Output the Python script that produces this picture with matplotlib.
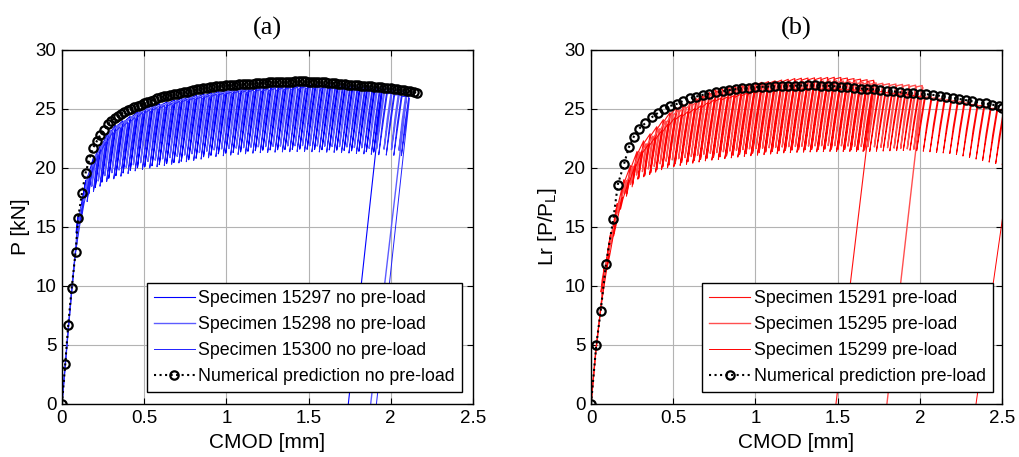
import numpy as np
import matplotlib
matplotlib.use("Agg")
import matplotlib.pyplot as plt
"""Cyclic CMOD tests compared with the numerical prediction, without (a) and with (b) pre-load"""

plt.rcParams['font.family'] = ['Liberation Sans', 'DejaVu Sans']
plt.rcParams['mathtext.default'] = 'regular'

# ---- numerical prediction, panel (a)
num_a_x = [0.0, 0.02, 0.038, 0.059, 0.083, 0.099, 0.122, 0.144, 0.168, 0.189,
           0.213, 0.233, 0.254, 0.28] + list(np.round(np.arange(0.30, 2.161, 0.02), 2))
num_a_y = [0.0, 3.4, 6.7, 9.8, 12.9, 15.8, 17.9, 19.6, 20.8, 21.7, 22.3, 22.8, 23.2, 23.7,
           24.00, 24.20, 24.40, 24.58, 24.75, 24.90, 25.02, 25.14, 25.26, 25.38,
           25.50, 25.60, 25.70, 25.80, 25.90, 26.00, 26.06, 26.12, 26.18, 26.24,
           26.30, 26.36, 26.42, 26.48, 26.54, 26.60, 26.66, 26.72, 26.77, 26.81,
           26.85, 26.89, 26.93, 26.96, 26.98, 27.00, 27.02, 27.04, 27.06, 27.08,
           27.10, 27.12, 27.14, 27.16, 27.18, 27.20, 27.22, 27.24, 27.25, 27.27,
           27.28, 27.29, 27.30, 27.31, 27.32, 27.33, 27.34, 27.35, 27.35, 27.34,
           27.33, 27.32, 27.31, 27.29, 27.27, 27.25, 27.23, 27.21, 27.18, 27.15,
           27.12, 27.09, 27.06, 27.04, 27.02, 27.00, 26.98, 26.96, 26.94, 26.92,
           26.90, 26.87, 26.84, 26.81, 26.78, 26.75, 26.71, 26.67, 26.63, 26.59,
           26.55, 26.50, 26.44, 26.36]

# ---- numerical prediction, panel (b)
num_b_x = [0.0, 0.032, 0.059, 0.091, 0.136, 0.163, 0.2, 0.23, 0.26, 0.29, 0.33, 0.37,
           0.41, 0.445, 0.48, 0.525, 0.56] + list(np.round(np.arange(0.60, 2.481, 0.04), 2)) + [2.5]
num_b_y = [0.0, 5.0, 7.9, 11.9, 15.7, 18.6, 20.3, 21.75, 22.65, 23.3, 23.8, 24.3,
           24.7, 25.0, 25.25, 25.45, 25.7,
           25.90, 26.05, 26.20, 26.30, 26.40, 26.50, 26.60, 26.68, 26.75, 26.80,
           26.85, 26.88, 26.90, 26.92, 26.94, 26.96, 26.98, 26.99, 27.00, 27.00,
           26.99, 26.97, 26.93, 26.88, 26.83, 26.78, 26.73, 26.69, 26.66, 26.62,
           26.56, 26.49, 26.42, 26.37, 26.33, 26.30, 26.25, 26.19, 26.13, 26.04,
           25.95, 25.85, 25.75, 25.65, 25.55, 25.47, 25.38, 25.22, 25.10]

# ---- experimental envelopes, panel (a)
load_a_x = [0.0, 0.02, 0.04, 0.06, 0.08]
load_a_y = [0.0, 3.3, 6.6, 9.7, 12.6]
grid_a = [0.10, 0.15, 0.20, 0.30, 0.50, 0.75, 1.00, 1.25, 1.50, 1.75, 2.00, 2.20]
peak_15297 = [16.0, 19.3, 21.2, 23.4, 25.1, 26.0, 26.6, 26.9, 27.0, 26.9, 26.7, 26.5]
peak_15298 = [15.5, 19.0, 21.0, 23.3, 25.0, 25.9, 26.5, 26.9, 27.1, 27.0, 26.7, 26.3]
peak_15300 = [15.0, 18.5, 20.7, 23.0, 24.8, 25.8, 26.4, 26.7, 26.9, 26.8, 26.4, 25.8]
low_15297 = [14.5, 17.0, 18.0, 19.0, 20.0, 20.5, 21.2, 21.5, 21.6, 21.5, 21.3, 21.1]
low_15298 = [14.5, 17.3, 18.4, 19.4, 20.4, 21.0, 21.6, 21.8, 21.9, 21.8, 21.6, 21.4]
low_15300 = [14.0, 16.5, 17.8, 18.8, 19.8, 20.4, 21.0, 21.3, 21.4, 21.3, 21.1, 21.0]
# first cycle, last cycle, cycle step, CMOD after final unloading
run_15297 = [0.100, 1.98, 0.045, 1.742]
run_15298 = [0.115, 2.10, 0.045, 1.878]
run_15300 = [0.130, 2.14, 0.045, 1.913]

# ---- experimental envelopes, panel (b)
load_b_x = [0.0, 0.03, 0.06]
load_b_y = [0.0, 4.6, 8.2]
grid_b = [0.08, 0.12, 0.16, 0.20, 0.30, 0.50, 0.75, 1.00, 1.25, 1.50, 1.75, 2.00, 2.25, 2.50, 2.65]
peak_15291 = [11.5, 14.5, 17.0, 19.0, 22.0, 25.0, 26.6, 27.2, 27.6, 27.7, 27.4, 27.1, 26.9, 26.7, 26.5]
peak_15295 = [11.0, 14.0, 16.5, 18.5, 21.5, 24.7, 26.4, 27.0, 27.3, 27.4, 27.2, 27.0, 26.8, 26.5, 26.3]
peak_15299 = [10.5, 13.5, 16.0, 18.0, 21.3, 24.2, 25.8, 26.5, 26.8, 26.8, 26.6, 26.2, 25.7, 25.0, 24.6]
low_15291 = [9.5, 12.0, 15.0, 17.0, 19.0, 20.2, 20.8, 21.2, 21.5, 21.6, 21.5, 21.5, 21.3, 21.0, 20.8]
low_15295 = [10.0, 12.5, 15.5, 17.5, 19.5, 20.6, 21.2, 21.6, 21.8, 21.9, 21.8, 21.6, 21.4, 21.0, 20.8]
low_15299 = [9.5, 12.0, 15.0, 17.0, 19.0, 20.0, 20.6, 21.0, 21.3, 21.4, 21.4, 21.5, 21.2, 20.4, 20.0]
run_15291 = [0.080, 1.74, 0.040, 1.490]
run_15295 = [0.095, 2.04, 0.040, 1.800]
run_15299 = [0.110, 2.61, 0.040, 2.342]

xticks = [0, 0.5, 1, 1.5, 2, 2.5]
xtick_labels = ['0', '0.5', '1', '1.5', '2', '2.5']
yticks = [0, 5, 10, 15, 20, 25, 30]


def cyclic(load_x, load_y, grid, peaks, lows, run, comp):
    """Builds the unload/reload path of one specimen from its envelopes"""
    first, last, step, x_end = run
    xs = list(load_x)
    ys = list(load_y)
    xp = np.arange(first, last + 1e-9, step)
    pk = np.interp(xp, grid, peaks)
    lo = np.interp(xp, grid, lows)
    for x, p, t in zip(xp, pk, lo):
        dx = comp*(p - t)
        xs += [x, x - 0.5*dx - 0.003, x - dx, x - 0.5*dx + 0.003, x + 0.004]
        ys += [p, 0.5*(p + t), t, 0.5*(p + t), p - 0.15]
    xs += [x_end]
    ys += [0.0]
    return np.array(xs), np.array(ys)


def panel(ax, curves, num_x, num_y, num_label, ylabel, title, legend_x):
    """Draws one panel: the three specimens, the prediction and the legend"""
    for (x, y), label, color, lw in curves:
        ax.plot(x, y, color=color, lw=lw, label=label)
    ax.plot(num_x, num_y, ':', color='k', lw=1.5, marker='o', ms=6,
            mfc='none', mec='k', mew=1.6, label=num_label)
    ax.set_xlim(0, 2.5)
    ax.set_ylim(0, 30)
    ax.set_xticks(xticks)
    ax.set_xticklabels(xtick_labels)
    ax.set_yticks(yticks)
    ax.grid(True, color='0.7', lw=0.8)
    ax.set_axisbelow(True)
    ax.tick_params(direction='in', top=True, right=True, length=4, labelsize=13.5, pad=4)
    for s in ax.spines.values():
        s.set_linewidth(1.0)
    ax.set_xlabel('CMOD [mm]', fontsize=15, labelpad=5)
    ax.set_ylabel(ylabel, fontsize=15, labelpad=4)
    ax.set_title(title, fontsize=19, family=['Liberation Serif', 'DejaVu Serif'], pad=11)
    leg = ax.legend(loc='lower right', bbox_to_anchor=(legend_x, 0.034), borderaxespad=0,
                    fontsize=12.8, fancybox=False, framealpha=1, edgecolor='k',
                    handlelength=2.3, handletextpad=0.2, labelspacing=0.5,
                    borderpad=0.4, numpoints=1)
    leg.get_frame().set_linewidth(1.0)


fig = plt.figure(figsize=(10.19, 4.57), dpi=100)
ax1 = fig.add_axes([0.0608, 0.116, 0.4033, 0.7746])
ax2 = fig.add_axes([0.58, 0.116, 0.4033, 0.7746])

curves_a = [
    (cyclic(load_a_x, load_a_y, grid_a, peak_15297, low_15297, run_15297, 0.009),
     'Specimen 15297 no pre-load', '#0000ff', 0.8),
    (cyclic(load_a_x, load_a_y, grid_a, peak_15298, low_15298, run_15298, 0.009),
     'Specimen 15298 no pre-load', '#5c5cff', 1.0),
    (cyclic(load_a_x, load_a_y, grid_a, peak_15300, low_15300, run_15300, 0.009),
     'Specimen 15300 no pre-load', '#2020ff', 0.7),
]
curves_b = [
    (cyclic(load_b_x, load_b_y, grid_b, peak_15291, low_15291, run_15291, 0.0095),
     'Specimen 15291 pre-load', '#ff1010', 0.8),
    (cyclic(load_b_x, load_b_y, grid_b, peak_15295, low_15295, run_15295, 0.0095),
     'Specimen 15295 pre-load', '#ff5050', 1.0),
    (cyclic(load_b_x, load_b_y, grid_b, peak_15299, low_15299, run_15299, 0.0105),
     'Specimen 15299 pre-load', '#ff0000', 0.7),
]

panel(ax1, curves_a, num_a_x, num_a_y, 'Numerical prediction no pre-load',
      'P [kN]', '(a)', 0.973)
panel(ax2, curves_b, num_b_x, num_b_y, 'Numerical prediction pre-load',
      'Lr [P/P$_{L}$]', '(b)', 0.978)

fig.savefig('out.png', dpi=100)
